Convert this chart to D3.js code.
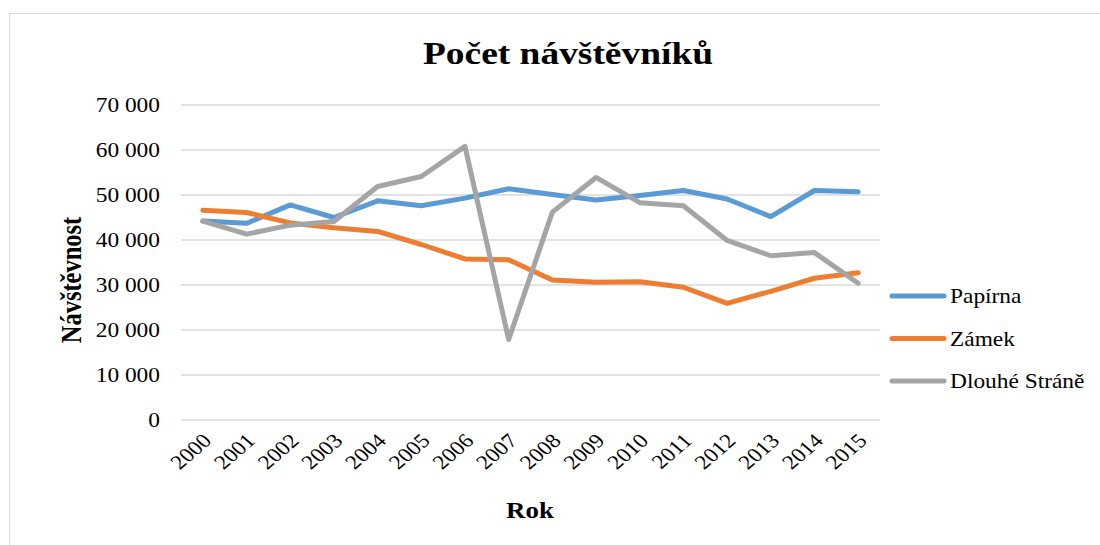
<!DOCTYPE html>
<html>
<head>
<meta charset="utf-8">
<script src="https://cdn.jsdelivr.net/npm/d3@7"></script>
<style>
  body { margin: 0; background: #fff; }
  text { font-family: "Liberation Serif", "Times New Roman", serif; fill: #000; }
</style>
</head>
<body>
<svg id="chart" width="1100" height="545"></svg>
<script>
var years = ["2000","2001","2002","2003","2004","2005","2006","2007","2008","2009","2010","2011","2012","2013","2014","2015"];
var papirna = [44200, 43700, 47800, 45000, 48700, 47600, 49300, 51400, 50100, 48900, 49900, 51000, 49100, 45200, 51000, 50700];
var zamek = [46600, 46100, 43800, 42700, 41900, 39000, 35800, 35600, 31100, 30600, 30700, 29500, 25900, 28600, 31500, 32700];
var dlouheStrane = [44200, 41300, 43300, 44100, 51900, 54100, 60800, 17900, 46200, 53900, 48300, 47600, 39900, 36500, 37200, 30400];
var seriesNames = ["Papírna", "Zámek", "Dlouhé Stráně"];
var seriesColors = ["#5B9BD5", "#ED7D31", "#A5A5A5"];
var yTicks = [0, 10000, 20000, 30000, 40000, 50000, 60000, 70000];

var svg = d3.select("#chart");
var sx = 1.17; // text in the picture is a bit wider than Times

// chart area border
svg.append("rect")
  .attr("x", 9.5).attr("y", 13.5)
  .attr("width", 1200).attr("height", 600)
  .attr("fill", "none")
  .attr("stroke", "#D9D9D9")
  .attr("stroke-width", 1);

var plotLeft = 181, plotRight = 880, plotTop = 105, plotBottom = 420;

var x = d3.scaleBand().domain(years).range([plotLeft, plotRight]);
var y = d3.scaleLinear().domain([0, 70000]).range([plotBottom, plotTop]);

//gridlines
svg.append("g")
  .selectAll("line")
  .data(yTicks)
  .enter().append("line")
  .attr("x1", plotLeft).attr("x2", plotRight)
  .attr("y1", function(d){ return y(d); })
  .attr("y2", function(d){ return y(d); })
  .attr("stroke", "#D9D9D9")
  .attr("stroke-width", 1.5);

// y axis labels
var fmt = function(d){ return d3.format(",")(d).replace(/,/g, " "); };
var yAxis = d3.axisLeft(y).tickValues(yTicks).tickFormat(fmt).tickSize(0);
var gy = svg.append("g").attr("transform", "translate(" + plotLeft + ",0)").call(yAxis);
gy.select(".domain").remove();
gy.selectAll("text")
  .style("font-family", "Liberation Serif")
  .style("font-size", "20px")
  .attr("fill", "#000")
  .attr("x", 0)
  .attr("dy", "0.34em")
  .attr("transform", "translate(-21,0) scale(" + sx + ",1)");

// x axis labels
var xAxis = d3.axisBottom(x).tickSize(0).tickPadding(0);
var gx = svg.append("g").attr("transform", "translate(0," + plotBottom + ")").call(xAxis);
gx.select(".domain").remove();
gx.selectAll("text")
  .style("font-family", "Liberation Serif")
  .style("font-size", "20px")
  .attr("fill", "#000")
  .attr("text-anchor", "end")
  .attr("y", 0)
  .attr("dy", "0")
  .attr("transform", "translate(10,22) scale(" + sx + ",1) rotate(-45)");

// lines
var allSeries = [papirna, zamek, dlouheStrane];
var line = d3.line()
  .x(function(d, i){ return x(years[i]) + x.bandwidth() / 2; })
  .y(function(d){ return y(d); });

svg.append("g")
  .selectAll("path")
  .data(allSeries)
  .enter().append("path")
  .attr("d", line)
  .attr("fill", "none")
  .attr("stroke", function(d, i){ return seriesColors[i]; })
  .attr("stroke-width", 5)
  .attr("stroke-linecap", "round")
  .attr("stroke-linejoin", "round");

// titles
svg.append("text")
  .attr("transform", "translate(568,64) scale(" + sx + ",1)")
  .attr("text-anchor", "middle")
  .style("font-size", "32px")
  .style("font-weight", "bold")
  .text("Počet návštěvníků");

svg.append("text")
  .attr("transform", "translate(81,280) scale(" + sx + ",1) rotate(-90)")
  .attr("text-anchor", "middle")
  .style("font-size", "24.5px")
  .style("font-weight", "bold")
  .text("Návštěvnost");

svg.append("text")
  .attr("transform", "translate(530,518) scale(1.12,1)")
  .attr("text-anchor", "middle")
  .style("font-size", "24px")
  .style("font-weight", "bold")
  .text("Rok");

// legend
var legend = svg.append("g")
  .selectAll("g")
  .data(seriesNames)
  .enter().append("g")
  .attr("transform", function(d, i){ return "translate(892," + (296 + i * 42.5) + ")"; });

legend.append("line")
  .attr("x1", 0).attr("x2", 52)
  .attr("stroke", function(d, i){ return seriesColors[i]; })
  .attr("stroke-width", 5)
  .attr("stroke-linecap", "round");

legend.append("text")
  .attr("transform", "translate(58,7) scale(" + sx + ",1)")
  .style("font-size", "20px")
  .text(function(d){ return d; });
</script>
</body>
</html>
